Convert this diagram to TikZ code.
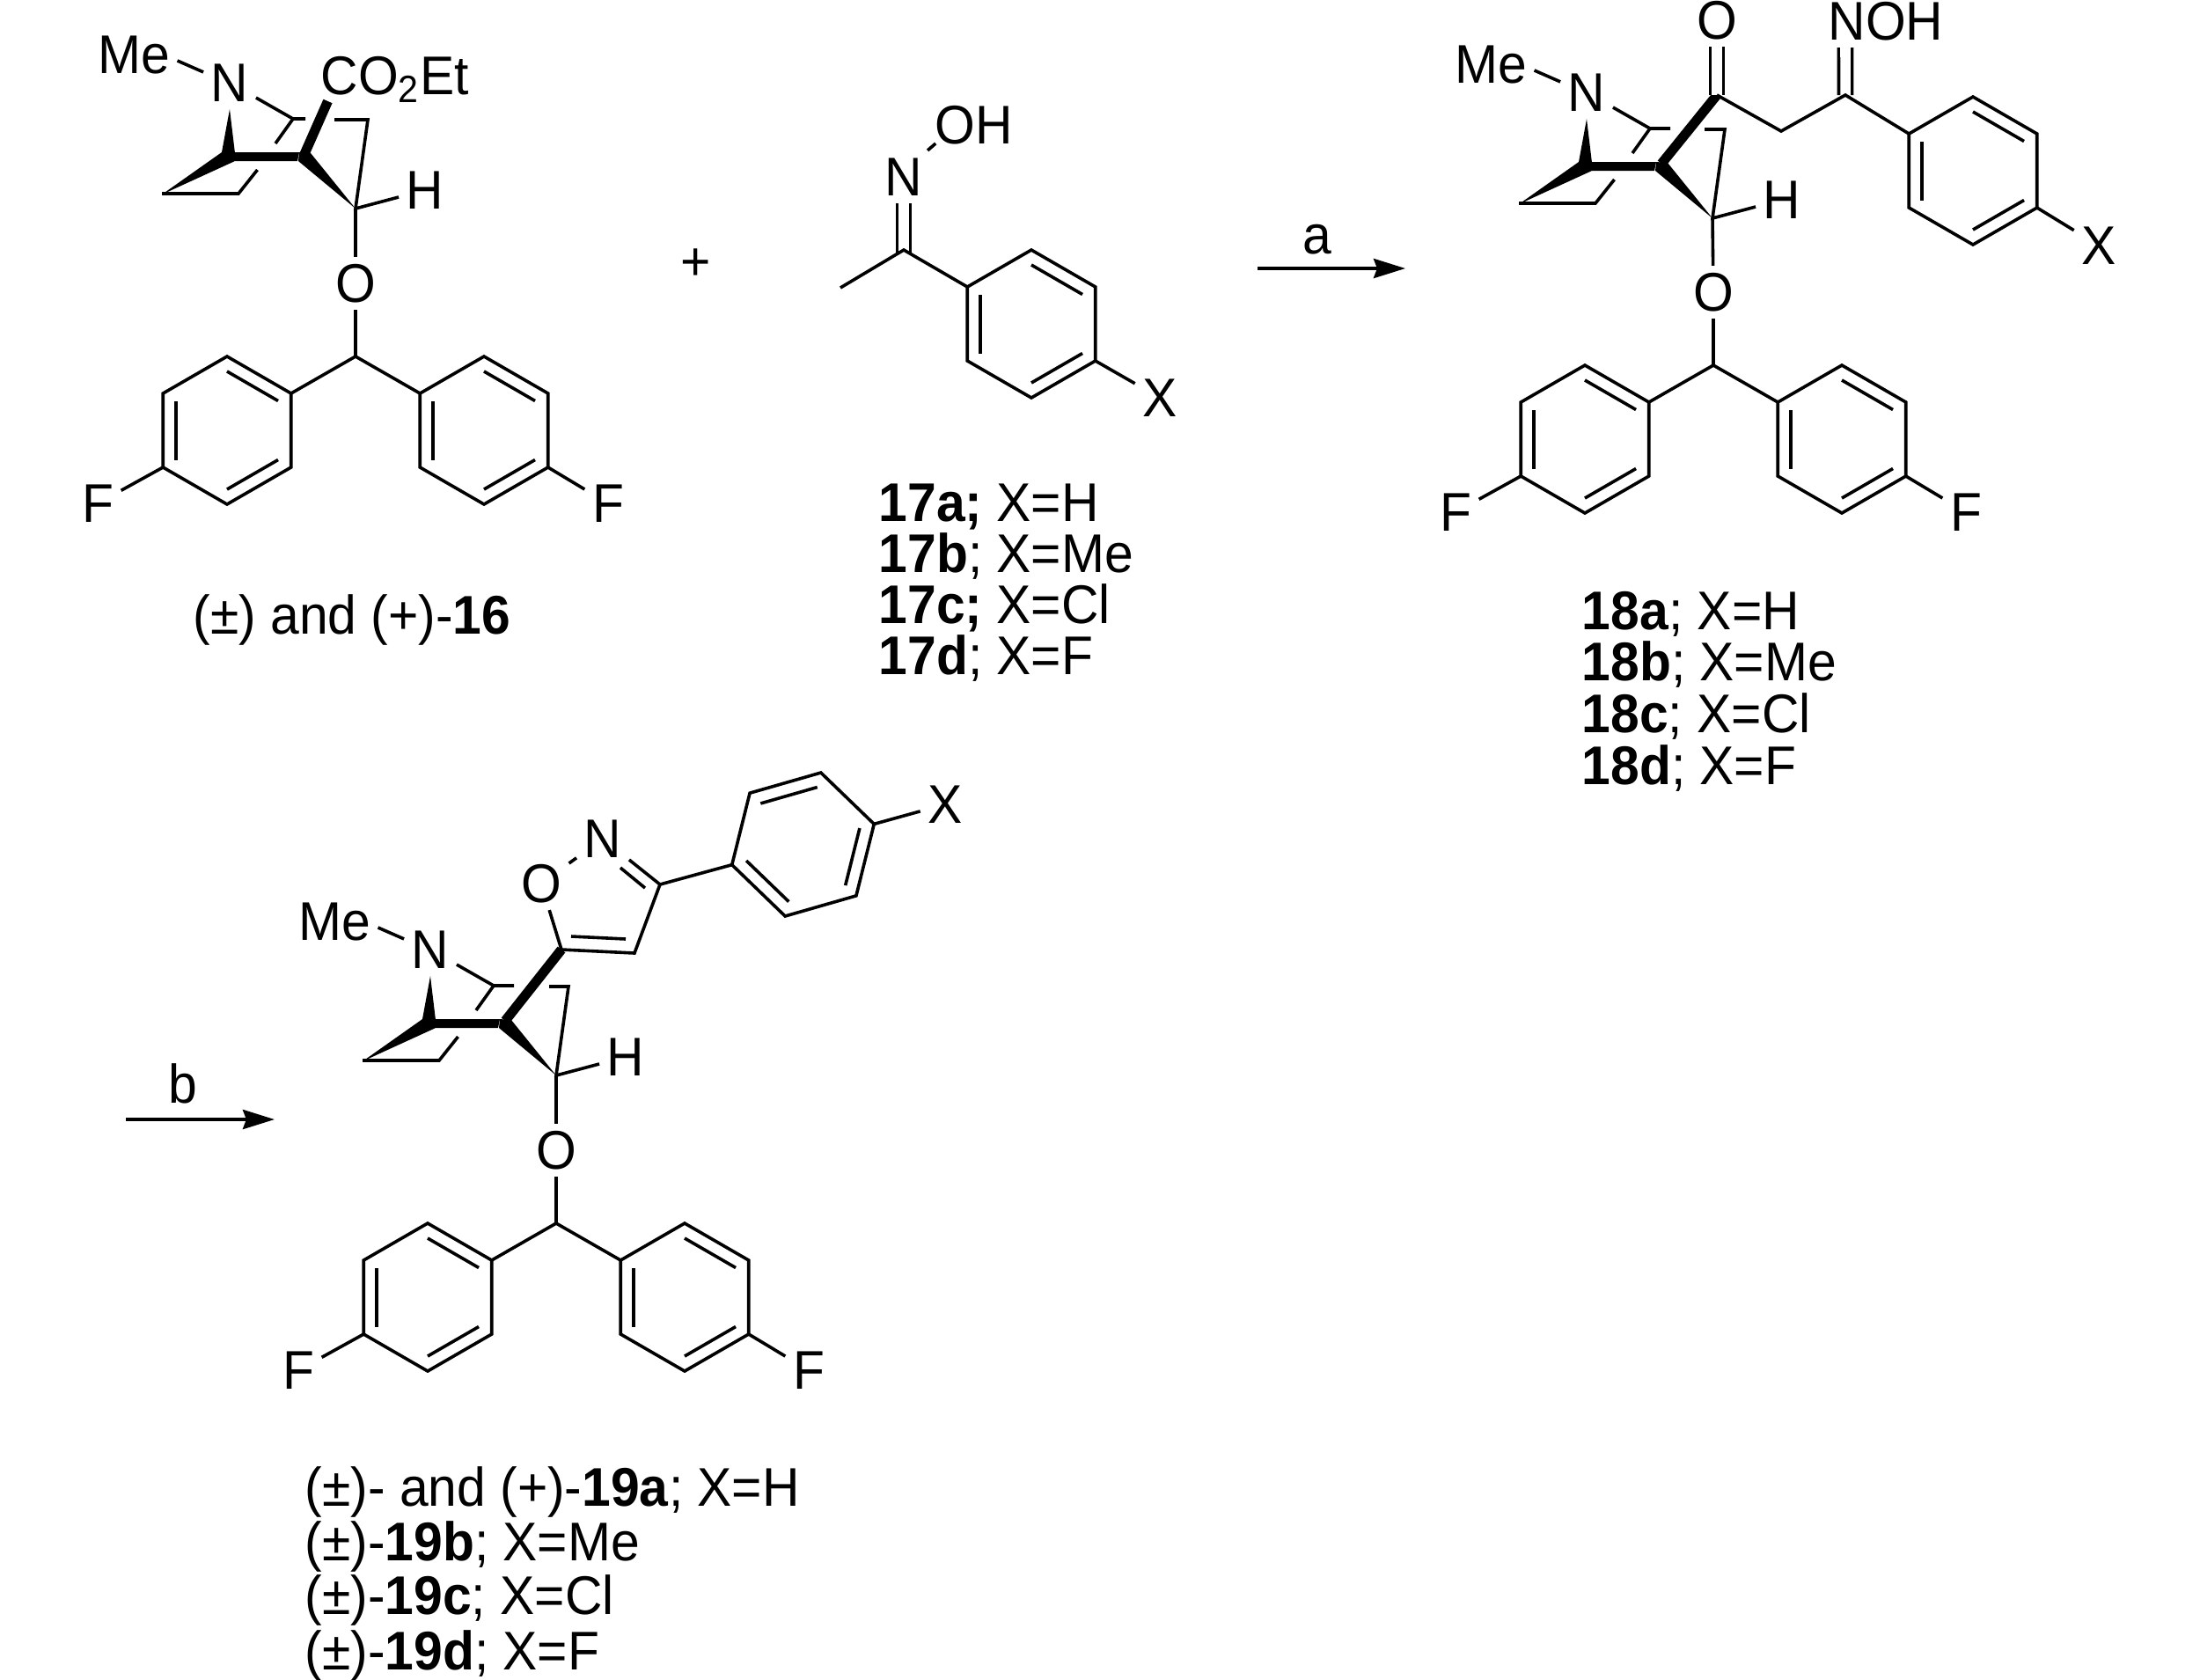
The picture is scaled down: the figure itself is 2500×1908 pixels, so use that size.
\documentclass[tikz,border=0pt]{standalone}
\usepackage{fontspec}
\setmainfont[FakeStretch=0.95]{Liberation Sans}
\usetikzlibrary{arrows.meta}
\tikzset{
    atom/.style={font=\fontsize{17.6}{21}\selectfont, inner sep=0.08cm, text height=0.427cm, text depth=0pt},
    tag/.style={atom, inner sep=0pt, anchor=west},
    bond/.style={line width=0.036cm, line join=miter},
    dbl/.style={bond, double, double distance=0.115cm},
    heavy/.style={line width=0.11cm},
    rxn/.style={line width=0.04cm, -{Stealth[length=0.36cm, width=0.22cm, inset=0.04cm]}},
    pics/aryl/.style={code={
        \coordinate (-p1) at (30+#1:84);
        \coordinate (-p2) at (90+#1:84);
        \coordinate (-p3) at (150+#1:84);
        \coordinate (-p4) at (210+#1:84);
        \coordinate (-p5) at (270+#1:84);
        \coordinate (-p6) at (330+#1:84);
        \draw[bond] (-p1) -- (-p2) -- (-p3) -- (-p4) -- (-p5) -- (-p6) -- cycle;
        \draw[bond] (30+#1:67) -- (90+#1:67);
        \draw[bond] (150+#1:67) -- (210+#1:67);
        \draw[bond] (270+#1:67) -- (330+#1:67);
    }},
    pics/aryl/.default=0,
    pics/diaryl/.style={code={
        \coordinate (-c) at (0,0);
        \node[atom] (-o) at (0,-83){O};
        \pic (-l) at (-146,84) {aryl};
        \pic (-r) at (146,84) {aryl};
        \node[atom] (-fl) at (-293,167){F};
        \node[atom] (-fr) at (287,167){F};
        \draw[bond] (-o) -- (-c);
        \draw[bond] (-l-p6) -- (-c) -- (-r-p4);
        \draw[bond] (-l-p3) -- (-fl);
        \draw[bond] (-r-p1) -- (-fr);
    }},
    pics/bicycle/.style 2 args={code={
        \coordinate (-c) at (0,0);
        \coordinate (-a) at (-71,-102);
        \coordinate (-d) at (14,-101);
        \coordinate (-j) at (-58,-62);
        \node[atom] (-me) at (-252,-175){Me};
        \node[atom] (-n) at (-143,-143){N};
        \node[atom] (-h) at (79,-21){H};
        \draw[bond] (-me.-8) -- (-n.158);
        \draw[bond] (-n) -- (-a) -- ++(#1,0);
        \draw[bond] (-a) -- (-91,-74);
        \draw[bond] (-111.5,-44) -- (-133,-17) -- (-220,-17);
        \draw[bond] (-d) ++(-#2,0) -- (-d) -- (-c) -- (-h);
        \fill (-n.south) -- (-152,-64) -- (-137,-63) -- cycle;
        \fill (-220,-16) -- (-152,-64) -- (-137,-64) -- (-137,-54) -- cycle;
        \fill (-137,-64) -- (-64,-64) -- (-66,-54) -- (-137,-54) -- cycle;
        \fill (-64,-64) -- (-51,-63) -- (-c) -- (-65,-54) -- cycle;
    }}
}
\begin{document}
\begin{tikzpicture}[x=0.01cm, y=-0.01cm]
    \useasboundingbox (0,0) rectangle (2500,1908);

    \pic (b16) at (404,237) {bicycle={14}{38}};
    \pic (d16) at (404,405) {diaryl};
    \coordinate (co16) at (372.5,115);
    \node[tag] (ester16) at (364,86){CO\textsubscript{2}Et};
    \draw[heavy] (b16-j) -- (co16);
    \draw[bond] (b16-c) -- (d16-o);
    \node[atom] (lab16) at (400,699){(±) and (+)-\textbf{16}};

    \node[atom] (plus) at (791,297){+};

    \node[atom] (oh17) at (1107,142){OH};
    \node[atom] (n17) at (1027,201){N};
    \coordinate (c17) at (1027,284);
    \coordinate (me17) at (955,327);
    \pic (r17) at (1172,368) {aryl};
    \node[atom] (x17) at (1318,452){X};
    \draw[bond] (n17.48) -- ([shift={(9,21)}]oh17.west);
    \draw[dbl, shorten >=-0.04cm] (n17) -- (c17);
    \draw[bond] (me17) -- (c17) -- (r17-p4);
    \draw[bond] (r17-p1) -- (x17);
    \node[tag] (lab17a) at (998,571){\textbf{17a;} X=H};
    \node[tag] (lab17b) at (998,629){\textbf{17b}; X=Me};
    \node[tag] (lab17c) at (998,687){\textbf{17c;} X=Cl};
    \node[tag] (lab17d) at (998,745){\textbf{17d}; X=F};

    \coordinate (arr1a) at (1429,305);
    \coordinate (arr1b) at (1597,305);
    \draw[rxn] (arr1a) -- (arr1b);
    \node[atom] (stepa) at (1497,267){a};

    \pic (b18) at (1946,248) {bicycle={23}{23}};
    \pic (d18) at (1947,415) {diaryl};
    \coordinate (c18a) at (1951,108);
    \coordinate (c18m) at (2024,149);
    \coordinate (c18b) at (2097,108);
    \node[atom, inner sep=0pt] (o18) at (1951,23){O};
    \node[atom, inner sep=0pt] (noh18) at (2143,24){NOH};
    \pic (r18) at (2242,194) {aryl};
    \node[atom] (x18) at (2385,279){X};
    \draw[heavy] (b18-j) -- (c18a);
    \draw[bond] (b18-c) -- (d18-o);
    \draw[dbl, shorten <=0.08cm] (o18) -- (c18a);
    \draw[dbl] ([shift={(20,8)}]noh18.south west) -- (c18b);
    \draw[bond] (c18a) -- (c18m) -- (c18b) -- (r18-p4);
    \draw[bond] (r18-p1) -- (x18);
    \node[tag] (lab18a) at (1797,694){\textbf{18a}; X=H};
    \node[tag] (lab18b) at (1797,752){\textbf{18b}; X=Me};
    \node[tag] (lab18c) at (1797,811){\textbf{18c}; X=Cl};
    \node[tag] (lab18d) at (1797,870){\textbf{18d}; X=F};

    \coordinate (arr2a) at (143,1272);
    \coordinate (arr2b) at (312,1272);
    \draw[rxn] (arr2a) -- (arr2b);
    \node[atom] (stepb) at (208,1232){b};

    \pic (b19) at (632,1222) {bicycle={23}{22}};
    \pic (d19) at (632,1390) {diaryl};
    \coordinate (c5) at (638,1079);
    \coordinate (c4) at (721,1083);
    \coordinate (c3) at (750,1005);
    \node[atom] (o19) at (615,1004){O};
    \node[atom] (n19) at (685,953){N};
    \pic (r19) at (912.5,959.5) {aryl=-46};
    \node[atom] (x19) at (1074,914){X};
    \draw[heavy] (b19-j) -- (c5);
    \draw[bond] (b19-c) -- (d19-o);
    \draw[bond] (o19) -- (c5) -- (c4) -- (c3) -- (n19);
    \draw[bond] (o19) -- (n19);
    \draw[bond] (649,1064) -- (711,1067);
    \draw[bond] (705,986) -- (733,1009);
    \draw[bond] (c3) -- (r19-p4);
    \draw[bond] (r19-p1) -- (x19);
    \node[tag] (lab19a) at (346,1690){(±)- and (+)-\textbf{19a}; X=H};
    \node[tag] (lab19b) at (346,1752){(±)-\textbf{19b}; X=Me};
    \node[tag] (lab19c) at (346,1813){(±)-\textbf{19c}; X=Cl};
    \node[tag] (lab19d) at (346,1876){(±)-\textbf{19d}; X=F};

\end{tikzpicture}
\end{document}
